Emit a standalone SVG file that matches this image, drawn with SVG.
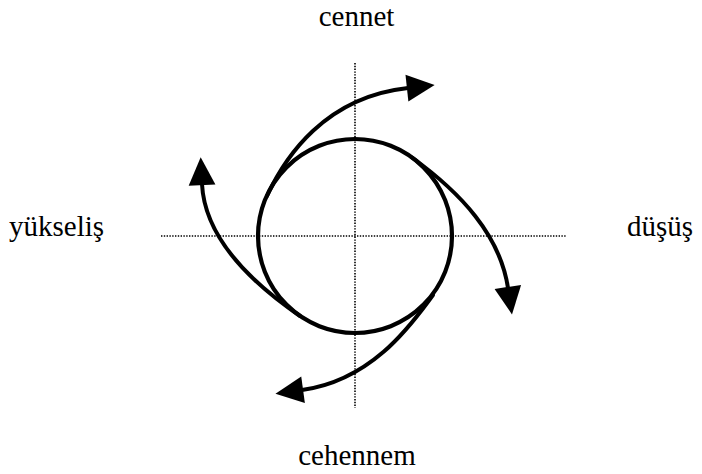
<svg xmlns="http://www.w3.org/2000/svg" width="702" height="474" viewBox="0 0 702 474">
<style>
.lbl{font-family:"Liberation Serif","Times New Roman",serif;font-size:29px;fill:#000}
.axis{stroke:#000;stroke-width:1.6;stroke-dasharray:1.4 1.4;fill:none}
.arm{stroke:#000;stroke-width:4;fill:none;stroke-linecap:round}
.circ{stroke:#000;stroke-width:4.2;fill:none}
</style>
<defs>
<marker id="ah" markerUnits="userSpaceOnUse" markerWidth="30" markerHeight="30" viewBox="0 -14 27 28" refX="1" refY="0" orient="auto">
<path d="M0,-12.5 L26,0 L0,12.5 Z" fill="#000"/>
</marker>
</defs>
<g id="axes">
<line class="axis" x1="355" y1="63" x2="355" y2="408"/>
<line class="axis" x1="161" y1="236" x2="566" y2="236"/>
</g>
<g id="circle">
<circle class="circ" cx="355" cy="236" r="97"/>
</g>
<g id="connectors">
<path class="arm" d="M267,196 C285,157 325,97 408,88" marker-end="url(#ah)"/>
<path class="arm" d="M412,157.5 C461,193 500,235 508,288" marker-end="url(#ah)"/>
<path class="arm" d="M433,295 C415,319 375,380 302,390" marker-end="url(#ah)"/>
<path class="arm" d="M300,316 C265,292 205,245 202,184" marker-end="url(#ah)"/>
</g>
<g id="cennet"><text class="lbl" x="356.5" y="26" text-anchor="middle">cennet</text></g>
<g id="cehennem"><text class="lbl" x="357" y="465" text-anchor="middle">cehennem</text></g>
<g id="yukselis"><text class="lbl" x="9" y="236">yükseliş</text></g>
<g id="dusus"><text class="lbl" x="627" y="236">düşüş</text></g>
</svg>
